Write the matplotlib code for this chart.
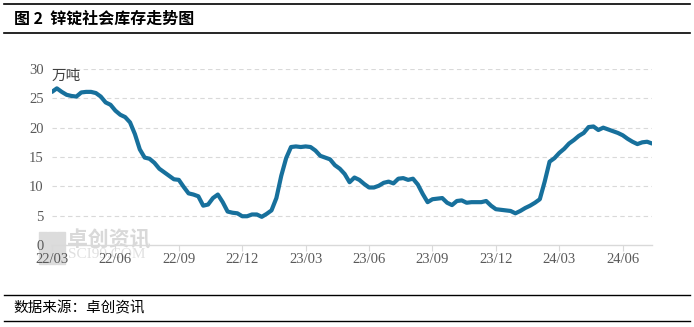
import matplotlib
matplotlib.use("Agg")
import matplotlib.pyplot as plt
from matplotlib.lines import Line2D
from matplotlib.patches import Rectangle

plt.rcParams['font.family'] = ['Noto Sans CJK SC', 'DejaVu Sans']

# weekly zinc ingot social inventory, 10k tonnes (2022/03 - 2024/07)
inventory = [
    26.1, 26.7, 26.1, 25.6, 25.4, 25.3, 26.0, 26.1, 26.1, 25.9,
    25.3, 24.3, 23.9, 22.9, 22.2, 21.8, 20.9, 18.9, 16.3, 14.9,
    14.7, 14.0, 13.0, 12.4, 11.8, 11.2, 11.1, 9.9, 8.8, 8.6,
    8.3, 6.7, 6.9, 8.0, 8.6, 7.3, 5.7, 5.5, 5.4, 4.9,
    4.9, 5.2, 5.2, 4.8, 5.3, 5.9, 8.0, 11.8, 14.8, 16.7,
    16.8, 16.7, 16.8, 16.7, 16.1, 15.2, 14.9, 14.6, 13.6, 13.0,
    12.1, 10.7, 11.5, 11.1, 10.4, 9.8, 9.8, 10.1, 10.6, 10.8,
    10.5, 11.3, 11.4, 11.1, 11.3, 10.3, 8.7, 7.3, 7.8, 7.9,
    8.0, 7.2, 6.8, 7.5, 7.6, 7.2, 7.3, 7.3, 7.3, 7.5,
    6.7, 6.1, 6.0, 5.9, 5.8, 5.4, 5.8, 6.3, 6.7, 7.2,
    7.8, 10.8, 14.2, 14.8, 15.7, 16.4, 17.3, 17.9, 18.6, 19.1,
    20.1, 20.2, 19.6, 20.0, 19.7, 19.4, 19.1, 18.7, 18.1, 17.6,
    17.2, 17.5, 17.6, 17.3,
]
tick_labels = ["22/03", "22/06", "22/09", "22/12", "23/03",
               "23/06", "23/09", "23/12", "24/03", "24/06"]
weeks_per_tick = 13

fig = plt.figure(figsize=(6.94, 3.27), dpi=100)
ax = fig.add_axes([0.0749, 0.2508, 0.8646, 0.5382])
ax.set_zorder(2)
ax.patch.set_visible(False)

x = list(range(len(inventory)))
ax.plot(x, inventory, color="#17709c", lw=3.0, solid_capstyle="round",
        solid_joinstyle="round", zorder=3)

ax.set_xlim(0, len(inventory) - 1)
ax.set_ylim(0, 30)
ax.set_yticks(range(0, 31, 5))
ax.set_xticks([i * weeks_per_tick for i in range(len(tick_labels))])
ax.set_xticklabels(tick_labels)

for lab in ax.get_xticklabels() + ax.get_yticklabels():
    lab.set_fontfamily("Liberation Serif")
    lab.set_fontsize(10.5)
    lab.set_color("#595959")

ax.tick_params(axis="y", length=0, pad=6)
ax.tick_params(axis="x", length=4, color="#d9d9d9", pad=2)
ax.grid(axis="y", color="#d9d9d9", linestyle=(0, (4, 3)), lw=0.8)
ax.set_axisbelow(True)
for side in ["top", "right", "left"]:
    ax.spines[side].set_visible(False)
ax.spines["bottom"].set_color("#d9d9d9")
ax.spines["bottom"].set_linewidth(1.0)
ax.yaxis.get_gridlines()[0].set_visible(False)

ax.text(0.01, 27.6, "万吨", fontsize=10.5, color="#404040", va="bottom", ha="left")

# watermark (drawn under the axes)
for r in range(3):
    for c in range(3):
        fig.patches.append(Rectangle((39 / 694 + c * 9 / 694, 1 - (232 + r * 11) / 327 - 10 / 327),
                                     8 / 694, 10 / 327, transform=fig.transFigure,
                                     color="#dcdcdc", zorder=0))
fig.text(67 / 694, 1 - 240 / 327, "卓创资讯", fontsize=15, color="#d9d9d9",
         weight="bold", va="center", ha="left", zorder=0)
fig.text(68 / 694, 1 - 255 / 327, "SCI99.COM", fontsize=11, color="#e0e0e0",
         family="Liberation Serif", va="center", ha="left", zorder=0)

# title / source frame lines
for yy, lw in [(4, 1.2), (33, 1.2), (295, 1.0), (321, 1.0)]:
    fig.add_artist(Line2D([4 / 694, 690 / 694], [1 - yy / 327] * 2,
                          transform=fig.transFigure, color="#000000", lw=lw))
fig.text(14 / 694, 1 - 19 / 327, "图 2  锌锭社会库存走势图", fontsize=11.5,
         weight="bold", va="center", ha="left", color="#000000")
fig.text(13 / 694, 1 - 308 / 327, "数据来源：卓创资讯", fontsize=10.5,
         va="center", ha="left", color="#000000")

fig.savefig("out.png", dpi=100)
